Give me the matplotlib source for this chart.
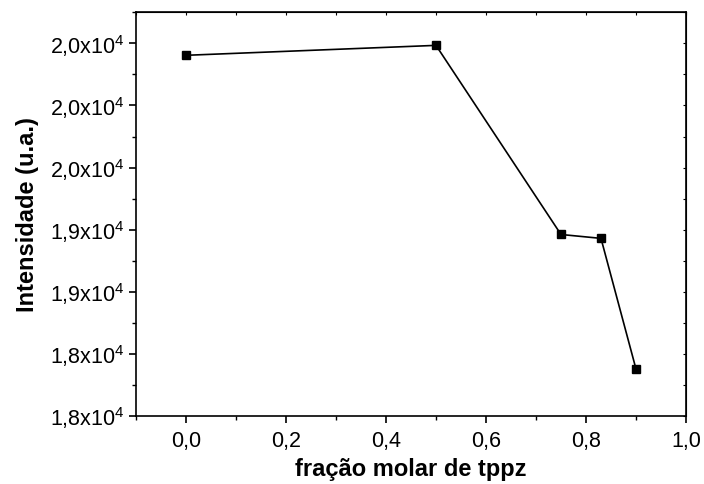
import matplotlib
matplotlib.use("Agg")
import matplotlib.pyplot as plt
from matplotlib.ticker import MultipleLocator

plt.rcParams['font.family'] = ['Liberation Sans', 'DejaVu Sans']
plt.rcParams['mathtext.default'] = 'regular'

# intensity vs tppz molar fraction
fracao = [0.0, 0.5, 0.75, 0.83, 0.9]
intensidade = [20323, 20387, 19169, 19144, 18303]

x_ticks = [0.0, 0.2, 0.4, 0.6, 0.8, 1.0]
x_labels = ["0,0", "0,2", "0,4", "0,6", "0,8", "1,0"]
y_ticks = [18000, 18400, 18800, 19200, 19600, 20000, 20400]
y_labels = ["1,8x10$^{4}$", "1,8x10$^{4}$", "1,9x10$^{4}$", "1,9x10$^{4}$",
            "2,0x10$^{4}$", "2,0x10$^{4}$", "2,0x10$^{4}$"]

fig = plt.figure(figsize=(7.04, 4.84), dpi=100)
ax = fig.add_axes([0.1932, 0.1405, 0.7812, 0.8341])

ax.plot(fracao, intensidade, color="black", linewidth=1.2,
        marker="s", markersize=6, markerfacecolor="black", markeredgecolor="black")

ax.set_xlim(-0.1, 1.0)
ax.set_ylim(18000, 20600)
ax.set_xticks(x_ticks)
ax.set_xticklabels(x_labels)
ax.set_yticks(y_ticks)
ax.set_yticklabels(y_labels)
ax.xaxis.set_minor_locator(MultipleLocator(0.1))
ax.yaxis.set_minor_locator(MultipleLocator(200))

ax.tick_params(which="major", direction="out", length=5, width=1.2, labelsize=15.5,
               top=False, right=False)
ax.tick_params(which="minor", direction="out", length=3, width=1.0)
ax.tick_params(axis="x", pad=6)
ax.tick_params(axis="y", pad=3)

# small inner ticks on top and right edges
sec_x = ax.secondary_xaxis("top")
sec_x.set_xticks(x_ticks)
sec_x.xaxis.set_minor_locator(MultipleLocator(0.1))
sec_x.tick_params(which="both", direction="in", length=2, width=0.8, labeltop=False)
sec_y = ax.secondary_yaxis("right")
sec_y.set_yticks(y_ticks)
sec_y.yaxis.set_minor_locator(MultipleLocator(200))
sec_y.tick_params(which="both", direction="in", length=2, width=0.8, labelright=False)

for s in ax.spines.values():
    s.set_linewidth(1.2)

ax.set_xlabel("fração molar de tppz", fontsize=17, fontweight="bold", labelpad=4)
ax.set_ylabel("Intensidade (u.a.)", fontsize=17, fontweight="bold", labelpad=8)

fig.savefig("out.png", dpi=100)
